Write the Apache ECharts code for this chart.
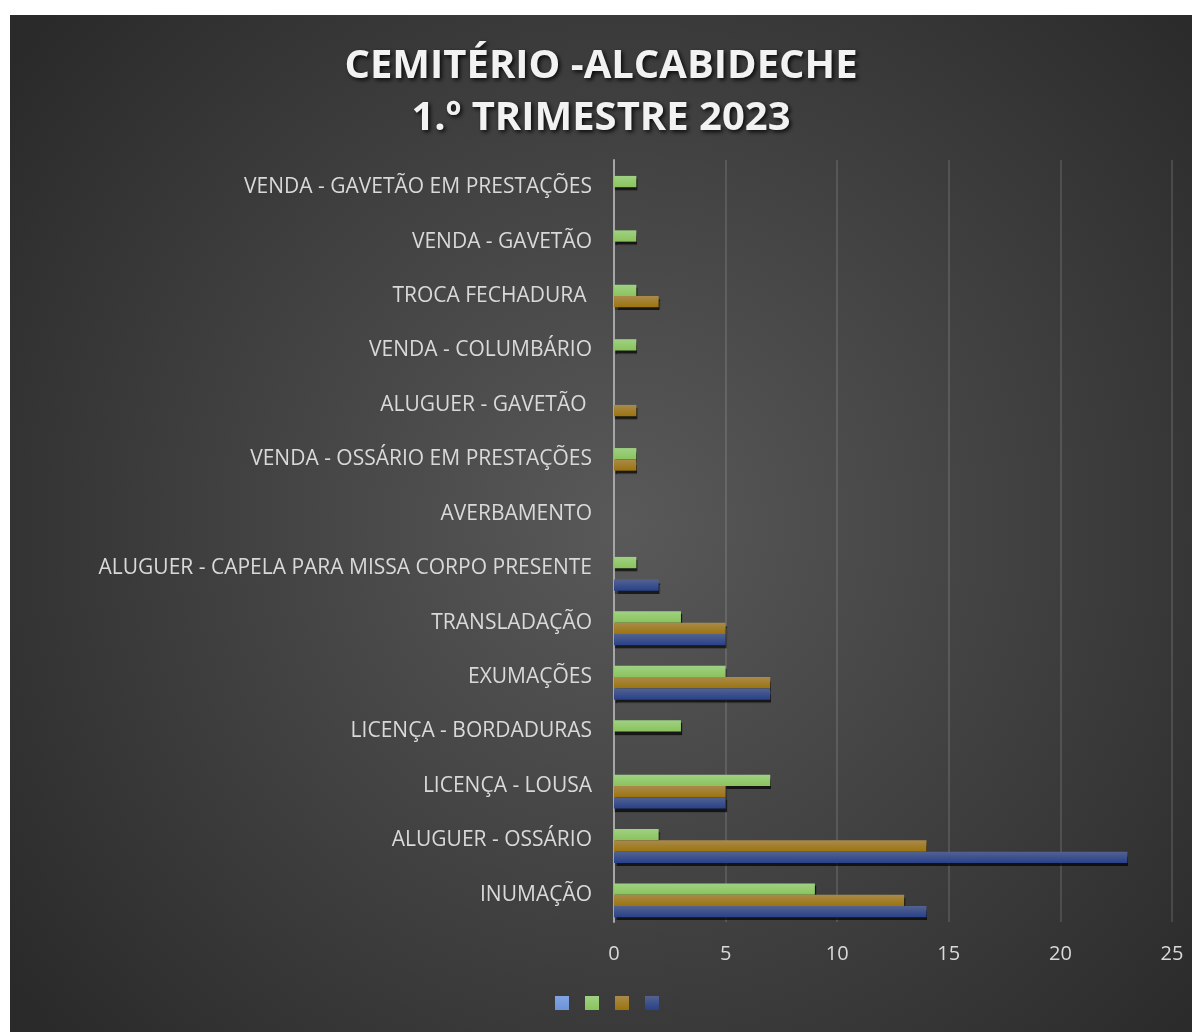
<!DOCTYPE html>
<html>
<head>
<meta charset="utf-8">
<script src="https://cdn.jsdelivr.net/npm/echarts@6/dist/echarts.min.js"></script>
<style>
  html, body { margin: 0; padding: 0; background: #ffffff; width: 1192px; height: 1032px; overflow: hidden; }
  #chart { position: absolute; left: 10px; top: 15px; width: 1182px; height: 1017px; }
</style>
</head>
<body>
<div id="chart"></div>
<script>
// Categories listed bottom to top (as drawn on the category axis)
var categories = [
  'INUMAÇÃO',
  'ALUGUER - OSSÁRIO',
  'LICENÇA - LOUSA',
  'LICENÇA - BORDADURAS',
  'EXUMAÇÕES',
  'TRANSLADAÇÃO',
  'ALUGUER - CAPELA PARA MISSA CORPO PRESENTE',
  'AVERBAMENTO',
  'VENDA - OSSÁRIO EM PRESTAÇÕES',
  'ALUGUER - GAVETÃO ',
  'VENDA - COLUMBÁRIO',
  'TROCA FECHADURA ',
  'VENDA - GAVETÃO',
  'VENDA - GAVETÃO EM PRESTAÇÕES'
];
var darkBlueValues  = [14, 23, 5, null, 7, 5, 2, null, null, null, null, null, null, null];
var goldValues      = [13, 14, 5, null, 7, 5, null, null, 1, 1, null, 2, null, null];
var greenValues     = [9, 2, 7, 3, 5, 3, 1, null, 1, null, 1, 1, 1, 1];
var lightBlueValues = [null, null, null, null, null, null, null, null, null, null, null, null, null, null];
var xTicks = [0, 5, 10, 15, 20, 25];

function grad(top, bottom) {
  return new echarts.graphic.LinearGradient(0, 0, 0, 1, [
    { offset: 0, color: top },
    { offset: 1, color: bottom }
  ]);
}
function barSeries(name, data, top, bottom, z) {
  return {
    name: name,
    type: 'bar',
    data: data,
    z: z,
    barGap: '0%',
    barCategoryGap: '17%',
    itemStyle: {
      color: grad(top, bottom),
      shadowColor: 'rgba(0,0,0,0.7)',
      shadowBlur: 1,
      shadowOffsetX: 1,
      shadowOffsetY: 3
    },
    emphasis: { disabled: true }
  };
}

var chart = echarts.init(document.getElementById('chart'), null, { renderer: 'canvas' });
chart.setOption({
  animation: false,
  backgroundColor: new echarts.graphic.RadialGradient(0.52, 0.5, 0.75, [
    { offset: 0, color: '#595959' },
    { offset: 1, color: '#2a2a2a' }
  ]),
  title: {
    text: 'CEMITÉRIO -ALCABIDECHE\n1.º TRIMESTRE 2023',
    left: 'center',
    top: 21,
    textStyle: {
      fontFamily: 'Open Sans',
      fontWeight: 'bold',
      fontSize: 40,
      lineHeight: 52,
      color: '#f2f2f2',
      textShadowColor: 'rgba(0,0,0,0.85)',
      textShadowBlur: 4,
      textShadowOffsetX: 2,
      textShadowOffsetY: 2
    }
  },
  legend: {
    data: ['S4', 'S3', 'S2', 'S1'],
    left: 540,
    top: 976,
    itemWidth: 14,
    itemHeight: 14,
    itemGap: 16,
    icon: 'rect',
    formatter: function () { return ''; },
    selectedMode: false,
    textStyle: { color: '#d9d9d9', fontSize: 14 }
  },
  grid: { left: 604, right: 20, top: 145, bottom: 110, containLabel: false },
  xAxis: {
    type: 'value',
    min: xTicks[0],
    max: xTicks[xTicks.length - 1],
    interval: 5,
    axisLine: { show: false },
    axisTick: { show: false },
    axisLabel: { color: '#d9d9d9', fontSize: 20, fontFamily: 'Open Sans', margin: 22 },
    splitLine: { show: true, lineStyle: { color: 'rgba(255,255,255,0.12)', width: 2 } }
  },
  yAxis: {
    type: 'category',
    data: categories,
    axisLine: { show: true, lineStyle: { color: '#a6a6a6', width: 2 } },
    axisTick: { show: false },
    axisLabel: { color: '#d9d9d9', fontSize: 21, fontFamily: 'Open Sans', margin: 22 },
    splitLine: { show: false }
  },
  // ECharts stacks horizontal bar slots top-down in series order, so the
  // empty light-blue series comes first and dark blue last (bottom).
  series: [
    barSeries('S4', lightBlueValues, '#82a4e2', '#6d93d8', 2),
    barSeries('S3', greenValues, '#9fd183', '#8bc35c', 3),
    barSeries('S2', goldValues, '#a98a4c', '#9c740c', 4),
    barSeries('S1', darkBlueValues, '#53628f', '#28418a', 5)
  ]
});
</script>
</body>
</html>
